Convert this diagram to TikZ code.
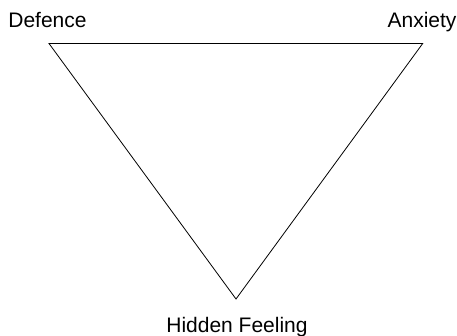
\documentclass[tikz,border=0pt]{standalone}
\usepackage{fontspec}
\setmainfont{Liberation Sans}
\begin{document}
\begin{tikzpicture}[x=1pt,y=-1pt,
  lbl/.style={font=\fontsize{21}{24}\selectfont, inner sep=0pt, anchor=base},
  edge/.style={draw=black, line width=0.8pt, line join=miter}]
\useasboundingbox (0,0) rectangle (457,336);
\coordinate (D) at (49,43.5);
\coordinate (A) at (422.7,43.5);
\coordinate (H) at (236,299);
\draw[edge] (D) -- (A) -- (H) -- cycle;
\node[lbl] (ld) at (47.5,27.5) {Defence};
\node[lbl] (la) at (422,27.5) {Anxiety};
\node[lbl] (lh) at (237,332) {Hidden Feeling};
\end{tikzpicture}
\end{document}
